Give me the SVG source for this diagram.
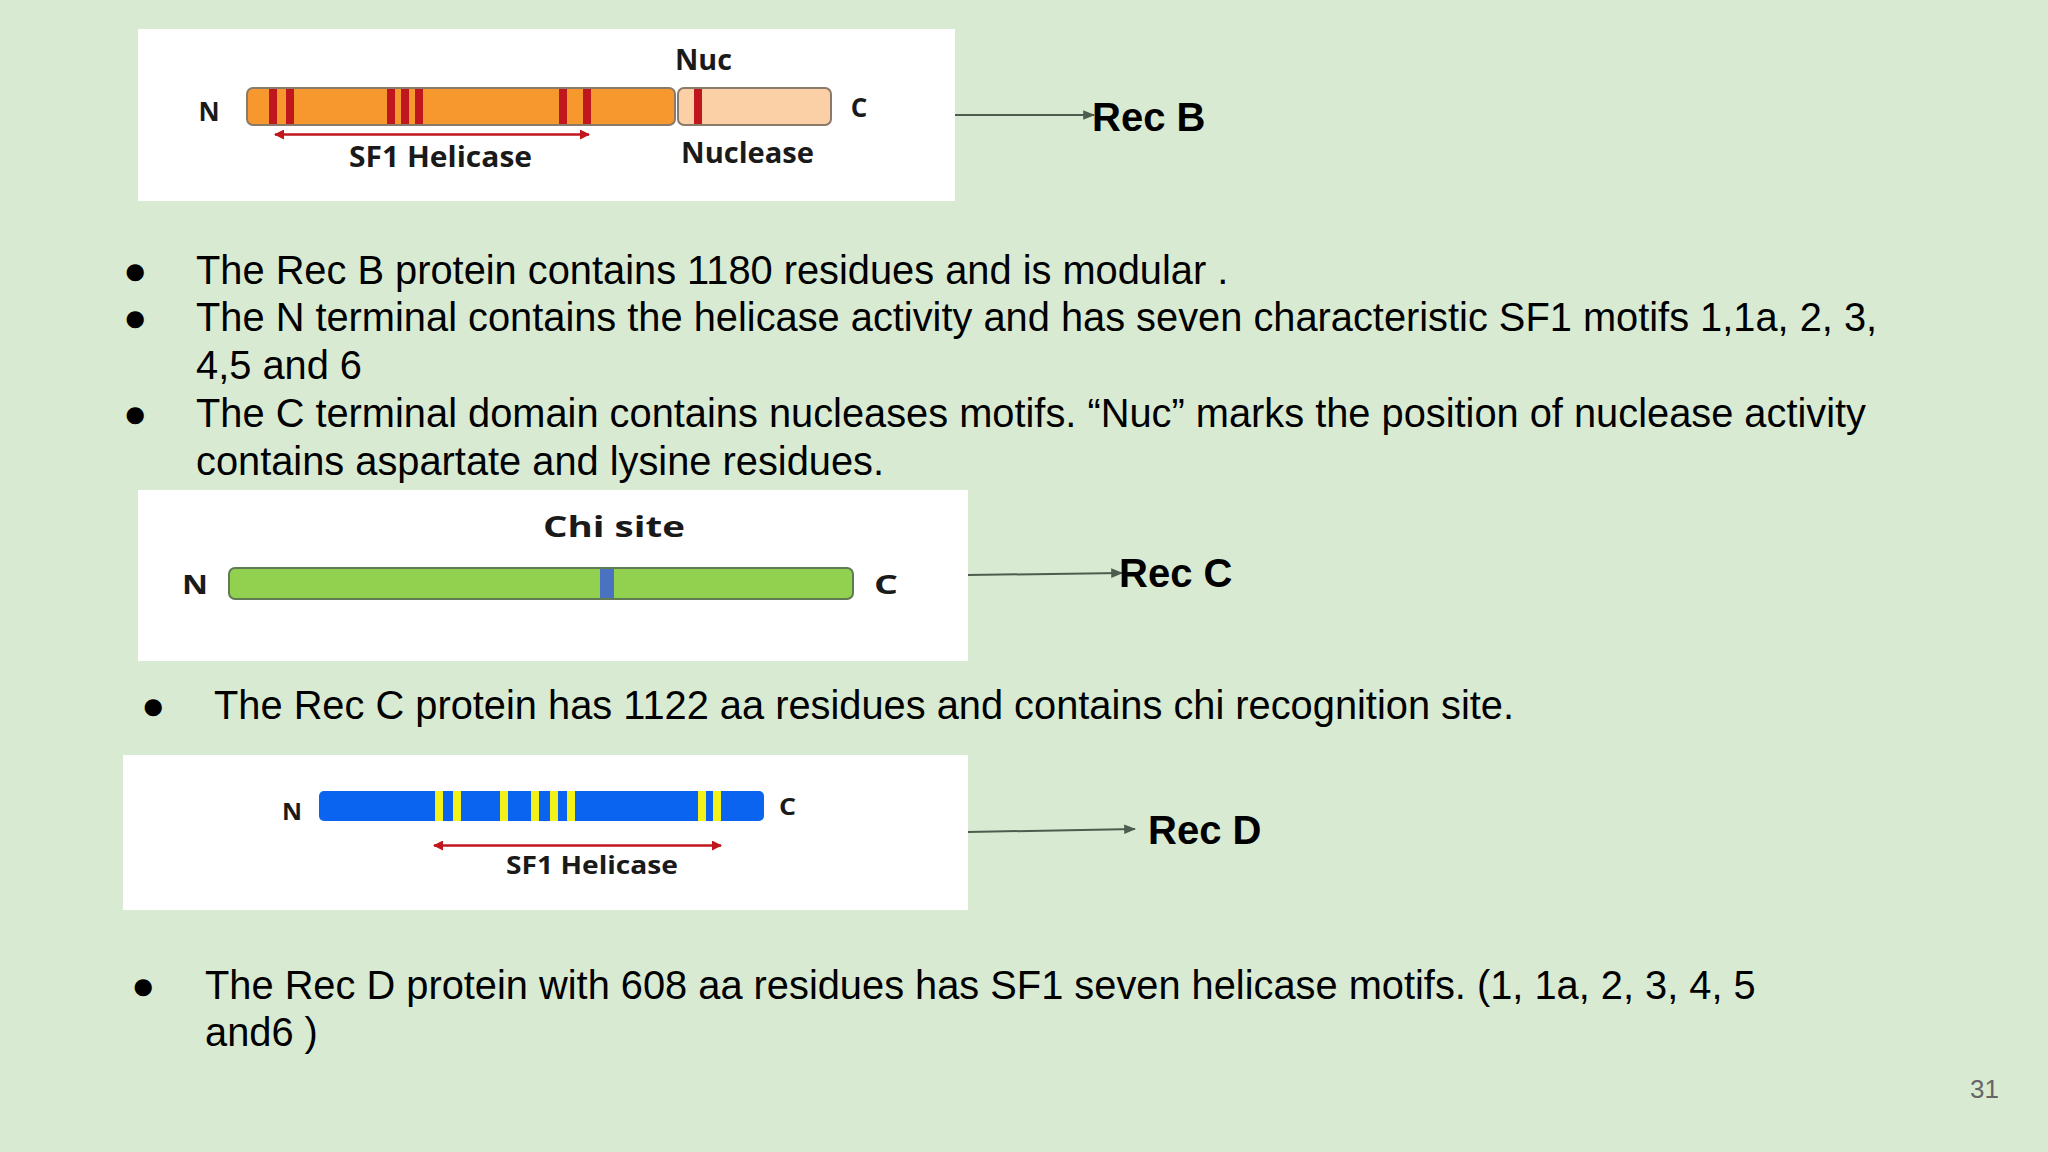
<svg xmlns="http://www.w3.org/2000/svg" width="2048" height="1152" viewBox="0 0 2048 1152">
<defs>
<style>
.body{font-family:"Liberation Sans",Arial,sans-serif;font-size:39.8px;fill:#000}
.lab{font-family:"Open Sans","Liberation Sans",sans-serif;font-weight:700;fill:#1a1a1a}
.rec{font-family:"Liberation Sans",Arial,sans-serif;font-weight:700;font-size:40px;fill:#000}
.panel{fill:#ffffff}
.conn{stroke:#4d5c4d;stroke-width:2;fill:none}
.red{fill:#c0161e}
.yel{fill:#f2f21a}
.harrow{stroke:#c0161e;stroke-width:2.5;fill:none}
</style>
<marker id="ah" viewBox="0 0 10 10" refX="9" refY="5" markerWidth="6" markerHeight="6" orient="auto" markerUnits="strokeWidth">
<path d="M0,1 L10,5 L0,9 z" fill="#4d5c4d"/>
</marker>
<marker id="rh" viewBox="0 0 10 10" refX="9" refY="5" markerWidth="4" markerHeight="4" orient="auto-start-reverse" markerUnits="strokeWidth">
<path d="M0,0 L10,5 L0,10 z" fill="#c0161e"/>
</marker>
</defs>
<rect width="2048" height="1152" fill="#d9ead3"/>

<g id="recB-panel">
<rect class="panel" x="138" y="29" width="817" height="172"/>
<rect x="247" y="88" width="428" height="37" rx="6" fill="#f7982f" stroke="#8a7a6a" stroke-width="2"/>
<rect x="678" y="88" width="153" height="37" rx="6" fill="#fbd0a6" stroke="#8a7a6a" stroke-width="2"/>
<rect class="red" x="269" y="89" width="8" height="35"/>
<rect class="red" x="286" y="89" width="8" height="35"/>
<rect class="red" x="387" y="89" width="8" height="35"/>
<rect class="red" x="401" y="89" width="8" height="35"/>
<rect class="red" x="415" y="89" width="8" height="35"/>
<rect class="red" x="559" y="89" width="8" height="35"/>
<rect class="red" x="583" y="89" width="8" height="35"/>
<rect class="red" x="694" y="89" width="8" height="35"/>
<line class="harrow" x1="275" y1="134.5" x2="589" y2="134.5" marker-start="url(#rh)" marker-end="url(#rh)"/>
<text class="lab" x="209" y="121" font-size="26" text-anchor="middle">N</text>
<text class="lab" x="859" y="117" font-size="26" text-anchor="middle">C</text>
<text class="lab" x="675" y="70" font-size="28" textLength="57" lengthAdjust="spacingAndGlyphs">Nuc</text>
<text class="lab" x="349" y="167" font-size="28" textLength="183" lengthAdjust="spacingAndGlyphs">SF1 Helicase</text>
<text class="lab" x="681" y="163" font-size="28" textLength="133" lengthAdjust="spacingAndGlyphs">Nuclease</text>
</g>

<g id="recC-panel">
<rect class="panel" x="138" y="490" width="830" height="171"/>
<rect x="229" y="568" width="624" height="31" rx="6" fill="#92d050" stroke="#5f7a55" stroke-width="2"/>
<rect x="600" y="569" width="14" height="29" fill="#4a72c0"/>
<text class="lab" x="543" y="537" font-size="29" textLength="142" lengthAdjust="spacingAndGlyphs">Chi site</text>
<text class="lab" x="182" y="594" font-size="27" textLength="26" lengthAdjust="spacingAndGlyphs">N</text>
<text class="lab" x="874" y="594" font-size="27" textLength="24" lengthAdjust="spacingAndGlyphs">C</text>
</g>

<g id="recD-panel">
<rect class="panel" x="123" y="755" width="845" height="155"/>
<rect x="319" y="791" width="445" height="30" rx="5" fill="#0a64f0"/>
<rect class="yel" x="435" y="791" width="8" height="30"/>
<rect class="yel" x="453" y="791" width="8" height="30"/>
<rect class="yel" x="500" y="791" width="8" height="30"/>
<rect class="yel" x="531" y="791" width="8" height="30"/>
<rect class="yel" x="550" y="791" width="8" height="30"/>
<rect class="yel" x="567" y="791" width="8" height="30"/>
<rect class="yel" x="698" y="791" width="8" height="30"/>
<rect class="yel" x="713" y="791" width="8" height="30"/>
<line class="harrow" x1="434" y1="845.5" x2="721" y2="845.5" marker-start="url(#rh)" marker-end="url(#rh)"/>
<text class="lab" x="282" y="820" font-size="24" textLength="20" lengthAdjust="spacingAndGlyphs">N</text>
<text class="lab" x="779" y="815" font-size="24" textLength="17" lengthAdjust="spacingAndGlyphs">C</text>
<text class="lab" x="506" y="874" font-size="25" textLength="172" lengthAdjust="spacingAndGlyphs">SF1 Helicase</text>
</g>

<g id="connectors">
<line class="conn" x1="955" y1="115" x2="1094" y2="115" marker-end="url(#ah)"/>
<line class="conn" x1="968" y1="575" x2="1122" y2="573" marker-end="url(#ah)"/>
<line class="conn" x1="968" y1="832" x2="1135" y2="829" marker-end="url(#ah)"/>
</g>

<g id="labels">
<text class="rec" x="1092" y="131">Rec B</text>
<text class="rec" x="1119" y="587">Rec C</text>
<text class="rec" x="1148" y="844">Rec D</text>
</g>

<g id="text">
<text class="body" x="123" y="284">●</text>
<text class="body" x="196" y="284">The Rec B protein contains 1180 residues and is modular .</text>
<text class="body" x="123" y="331">●</text>
<text class="body" x="196" y="331">The N terminal contains the helicase activity and has seven characteristic SF1 motifs 1,1a, 2, 3,</text>
<text class="body" x="196" y="379">4,5 and 6</text>
<text class="body" x="123" y="427">●</text>
<text class="body" x="196" y="427">The C terminal domain contains nucleases motifs. “Nuc” marks the position of nuclease activity</text>
<text class="body" x="196" y="475">contains aspartate and lysine residues.</text>
<text class="body" x="141" y="719">●</text>
<text class="body" x="214" y="719">The Rec C protein has 1122 aa residues and contains chi recognition site.</text>
<text class="body" x="131" y="999">●</text>
<text class="body" x="205" y="999">The Rec D protein with 608 aa residues has SF1 seven helicase motifs. (1, 1a, 2, 3, 4, 5</text>
<text class="body" x="205" y="1046">and6 )</text>
<text x="1970" y="1098" font-family="Liberation Sans, Arial, sans-serif" font-size="26" fill="#666">31</text>
</g>
</svg>
